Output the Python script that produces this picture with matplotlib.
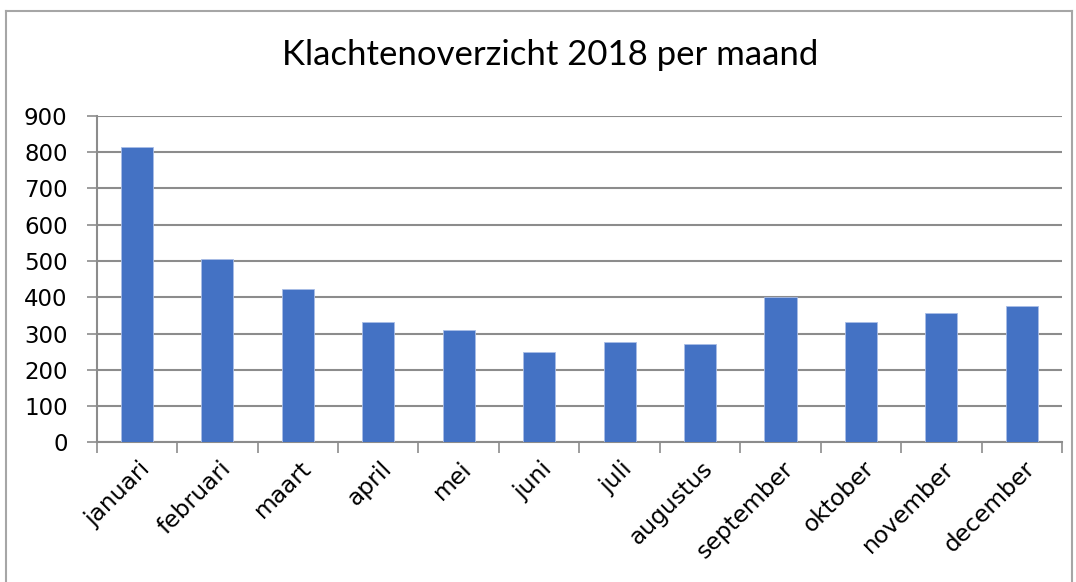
import matplotlib
matplotlib.use("Agg")
import matplotlib.pyplot as plt
from matplotlib.lines import Line2D

# data
maanden = ["januari", "februari", "maart", "april", "mei", "juni",
           "juli", "augustus", "september", "oktober", "november", "december"]
klachten = [815, 505, 424, 332, 311, 250, 276, 271, 402, 331, 357, 375]
y_ticks = [0, 100, 200, 300, 400, 500, 600, 700, 800, 900]

grid_color = "#8c8c8c"
bar_color = "#4472c4"

fig = plt.figure(figsize=(10.76, 5.82), dpi=100)
ax = fig.add_axes([0.0899, 0.2397, 0.8971, 0.5613])

x = list(range(len(maanden)))
ax.bar(x, klachten, width=0.4, color=bar_color, edgecolor="#a9bde6", linewidth=0.6, zorder=3)

ax.set_xlim(-0.5, len(maanden) - 0.5)
ax.set_ylim(0, 900)
ax.set_yticks(y_ticks)
ax.set_yticklabels([str(v) for v in y_ticks], fontsize=16.5, family="DejaVu Sans")
ax.yaxis.grid(True, color=grid_color, linewidth=1.5, zorder=0)
ax.tick_params(axis="y", length=7, width=1.2, color=grid_color, pad=14)

# category ticks sit between the bars
ax.set_xticks([i - 0.5 for i in range(len(maanden) + 1)])
ax.set_xticklabels([])
ax.tick_params(axis="x", length=8, width=1.2, color=grid_color)
for i, m in enumerate(maanden):
    ax.text(i + 0.12, -62, m, rotation=45, rotation_mode="anchor",
            ha="right", va="center", fontsize=16.8, family="DejaVu Sans")

for side in ["top", "right"]:
    ax.spines[side].set_visible(False)
for side in ["bottom", "left"]:
    ax.spines[side].set_color(grid_color)
    ax.spines[side].set_linewidth(1.5)

fig.text(0.511, 0.905, "Klachtenoverzicht 2018 per maand", ha="center", va="center",
         fontsize=25, family="Lato")

# grey border around the chart
fig.add_artist(Line2D([0.006, 0.996], [0.981, 0.981], transform=fig.transFigure, color="#a6a6a6", lw=1.5))
fig.add_artist(Line2D([0.006, 0.006], [0.0, 0.981], transform=fig.transFigure, color="#a6a6a6", lw=1.5))
fig.add_artist(Line2D([0.996, 0.996], [0.0, 0.981], transform=fig.transFigure, color="#a6a6a6", lw=1.5))

fig.savefig("out.png", dpi=100)
